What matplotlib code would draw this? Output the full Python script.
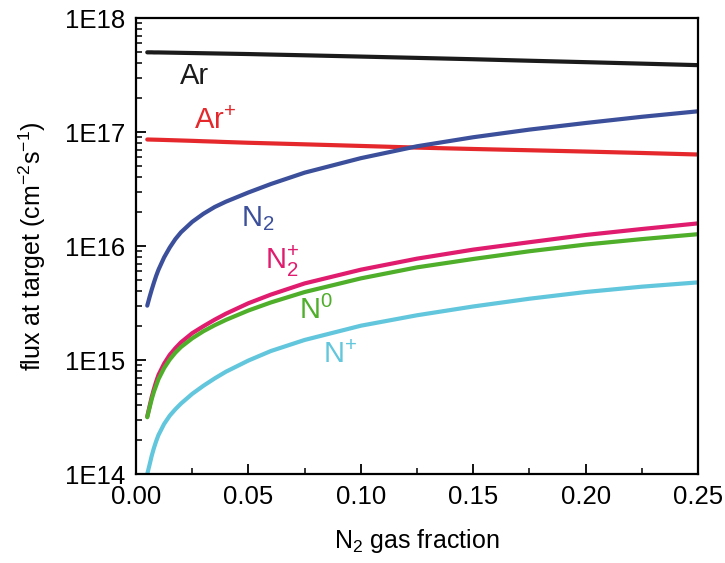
import math
import matplotlib
matplotlib.use("Agg")
import matplotlib.pyplot as plt
from matplotlib.ticker import FixedLocator, LogLocator, NullFormatter, FuncFormatter, MultipleLocator

plt.rcParams['font.family'] = ['Liberation Sans', 'DejaVu Sans']
plt.rcParams['mathtext.fontset'] = 'custom'
plt.rcParams['mathtext.rm'] = 'Liberation Sans'
plt.rcParams['mathtext.it'] = 'Liberation Sans'
plt.rcParams['mathtext.default'] = 'regular'

# N2 gas fraction
x = [0.005, 0.006, 0.007, 0.008, 0.009, 0.01, 0.0125, 0.015, 0.0175, 0.02,
     0.025, 0.03, 0.035, 0.04, 0.05, 0.06, 0.075, 0.10, 0.125, 0.15,
     0.175, 0.20, 0.225, 0.25]

flux_Ar = [5.0e17, 5.0e17, 5.0e17, 4.99e17, 4.99e17, 4.99e17, 4.98e17, 4.97e17, 4.96e17, 4.95e17,
           4.93e17, 4.91e17, 4.89e17, 4.87e17, 4.83e17, 4.78e17, 4.71e17, 4.59e17, 4.47e17, 4.35e17,
           4.22e17, 4.1e17, 3.98e17, 3.86e17]
flux_Ar_ion = [8.6e16, 8.59e16, 8.58e16, 8.57e16, 8.56e16, 8.55e16, 8.52e16, 8.49e16, 8.46e16, 8.43e16,
               8.37e16, 8.3e16, 8.24e16, 8.17e16, 8.05e16, 7.95e16, 7.8e16, 7.55e16, 7.3e16, 7.1e16,
               6.92e16, 6.74e16, 6.55e16, 6.35e16]
flux_N2 = [3.0e15, 3.55e15, 4.15e15, 4.8e15, 5.5e15, 6.2e15, 7.95e15, 9.7e15, 1.15e16, 1.32e16,
           1.63e16, 1.92e16, 2.2e16, 2.45e16, 2.95e16, 3.5e16, 4.4e16, 5.9e16, 7.5e16, 9.0e16,
           1.05e17, 1.2e17, 1.36e17, 1.52e17]
flux_N2_ion = [3.2e14, 3.9e14, 4.75e14, 5.6e14, 6.5e14, 7.4e14, 9.3e14, 1.11e15, 1.27e15, 1.43e15,
               1.72e15, 1.98e15, 2.26e15, 2.55e15, 3.15e15, 3.75e15, 4.7e15, 6.2e15, 7.75e15, 9.3e15,
               1.08e16, 1.25e16, 1.41e16, 1.58e16]
flux_N0 = [3.15e14, 3.8e14, 4.55e14, 5.3e14, 6.0e14, 6.8e14, 8.5e14, 1.01e15, 1.16e15, 1.3e15,
           1.55e15, 1.79e15, 2.02e15, 2.25e15, 2.72e15, 3.2e15, 3.95e15, 5.2e15, 6.5e15, 7.7e15,
           9.0e15, 1.03e16, 1.15e16, 1.27e16]
flux_N_ion = [1.0e14, 1.2e14, 1.45e14, 1.7e14, 1.95e14, 2.2e14, 2.75e14, 3.25e14, 3.7e14, 4.15e14,
              5.05e14, 5.95e14, 6.9e14, 7.9e14, 9.9e14, 1.2e15, 1.5e15, 2.0e15, 2.47e15, 2.95e15,
              3.45e15, 3.95e15, 4.4e15, 4.8e15]

series = [
    (flux_Ar, '#1b1b1b', r'Ar'),
    (flux_Ar_ion, '#e4282c', r'Ar$^{+}$'),
    (flux_N2, '#3b4f9b', r'N$_{2}$'),
    (flux_N2_ion, '#e01c6e', r'N$_{2}^{+}$'),
    (flux_N0, '#4fae2a', r'N$^{0}$'),
    (flux_N_ion, '#62c6dc', r'N$^{+}$'),
]

# label anchor positions (data coordinates)
label_pos = [(0.026, 3.1e17), (0.035, 1.25e17), (0.054, 1.75e16),
             (0.065, 7.4e15), (0.080, 2.75e15), (0.091, 1.1e15)]

fig = plt.figure(figsize=(7.25, 5.63), dpi=100)
ax = fig.add_axes([0.1876, 0.158, 0.7752, 0.810])

for (vals, col, lab), (lx, ly) in zip(series, label_pos):
    ax.plot(x, vals, color=col, lw=3.0, solid_capstyle='round')
    ax.text(lx, ly, lab, color=col, fontsize=21, ha='center', va='center')

ax.set_yscale('log')
ax.set_xlim(0.0, 0.25)
ax.set_ylim(1e14, 1e18)

ax.xaxis.set_major_locator(MultipleLocator(0.05))
ax.xaxis.set_minor_locator(MultipleLocator(0.025))
ax.xaxis.set_major_formatter(FuncFormatter(lambda v, p: f"{v:.2f}"))

ax.yaxis.set_major_locator(FixedLocator([1e14, 1e15, 1e16, 1e17, 1e18]))
ax.yaxis.set_minor_locator(LogLocator(base=10, subs=range(2, 10), numticks=20))
ax.yaxis.set_minor_formatter(NullFormatter())
ax.yaxis.set_major_formatter(FuncFormatter(lambda v, p: "1E%d" % round(math.log10(v))))

ax.tick_params(axis='both', which='major', direction='in', length=7.5, width=1.3,
               labelsize=18.5, pad=8, top=False, right=False)
ax.tick_params(axis='both', which='minor', direction='in', length=4.5, width=1.1,
               top=False, right=False)
for s in ax.spines.values():
    s.set_linewidth(1.6)

ax.set_xlabel(r'N$_2$ gas fraction', fontsize=18, labelpad=13)
ax.set_ylabel(r'flux at target (cm$^{-2}$s$^{-1}$)', fontsize=18, labelpad=12)

fig.savefig('out.png', dpi=100)
